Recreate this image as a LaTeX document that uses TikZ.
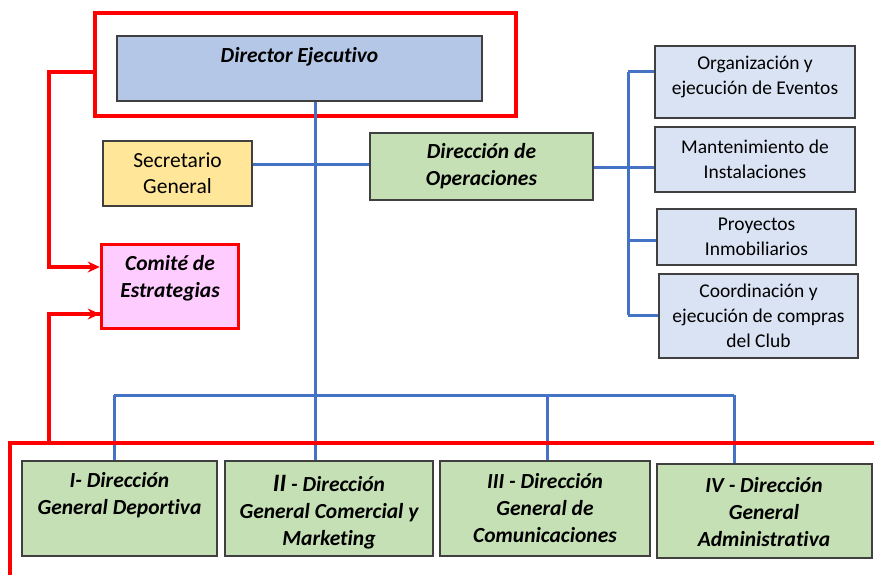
\documentclass[tikz,border=0pt]{standalone}
\usepackage{fontspec}
\setmainfont{Carlito}[Ligatures=NoCommon]
\usetikzlibrary{arrows.meta}
\definecolor{bluel}{HTML}{4472C4}
\definecolor{redl}{HTML}{FF0000}
\definecolor{dirfill}{HTML}{B4C7E7}
\definecolor{greenf}{HTML}{C5E0B4}
\definecolor{yellowf}{HTML}{FFE699}
\definecolor{pinkf}{HTML}{FFCCFF}
\definecolor{lbluef}{HTML}{DAE3F3}
\definecolor{borderc}{HTML}{404040}
\begin{document}
\begin{tikzpicture}[x=1pt,y=-1pt,
  box/.style={draw=borderc, line width=1.1pt, rectangle, inner sep=0pt},
  txt/.style={align=center, inner sep=0pt, font=\fontsize{21.5}{26}\selectfont},
  stxt/.style={align=center, inner sep=0pt, font=\fontsize{19.5}{25}\selectfont},
  btxt/.style={txt, font=\fontsize{21.5}{27}\selectfont\bfseries\itshape},
  bline/.style={draw=bluel, line width=3pt},
  rline/.style={draw=redl, line width=3.5pt},
  rarrow/.style={rline, -{Stealth[length=12pt,width=11pt,inset=4pt]}}
]
\useasboundingbox (0,0) rectangle (874,575);

% red frame around director
\node[draw=redl, line width=3.5pt, rectangle, minimum width=421pt, minimum height=103pt, inner sep=0pt] (frame) at (305.5,64.5) {};

% boxes
\node[box, fill=dirfill, minimum width=365pt, minimum height=65pt] (dir) at (299.5,68.5) {};
\node[btxt] (dirtxt) at (299.5,57) {Director Ejecutivo};

\node[box, fill=yellowf, minimum width=149pt, minimum height=65pt, txt] (sec) at (177.5,173.5) {Secretario\\General};

\node[draw=redl, line width=3.5pt, rectangle, fill=pinkf, minimum width=137pt, minimum height=84pt, inner sep=0pt] (com) at (170,286.5) {};
\node[btxt] (comtxt) at (170,278) {Comité de\\Estrategias};

\node[box, fill=greenf, minimum width=223pt, minimum height=67pt, btxt] (ope) at (481.5,166.5) {Dirección de\\Operaciones};

\node[box, fill=lbluef, minimum width=200pt, minimum height=72pt] (org) at (755,82) {};
\node[stxt] (orgtxt) at (755,76.5) {Organización y\\ejecución de Eventos};
\node[box, fill=lbluef, minimum width=200pt, minimum height=65pt, stxt] (man) at (755,159.5) {Mantenimiento de\\Instalaciones};
\node[box, fill=lbluef, minimum width=199pt, minimum height=56pt, stxt] (pro) at (756.5,237) {Proyectos\\Inmobiliarios};
\node[box, fill=lbluef, minimum width=199pt, minimum height=84pt, stxt] (coo) at (758.5,316) {Coordinación y\\ejecución de compras\\del Club};

\node[box, fill=greenf, minimum width=195pt, minimum height=95pt] (d1) at (119.5,508.5) {};
\node[btxt] (d1txt) at (119.5,495) {I- Dirección\\General Deportiva};
\node[box, fill=greenf, minimum width=208pt, minimum height=95pt] (d2) at (329,508.5) {};
\node[btxt] (d2txt) at (329,512) {{\fontsize{25}{27}\selectfont II} - Dirección\\General Comercial y\\Marketing};
\node[box, fill=greenf, minimum width=210pt, minimum height=95pt] (d3) at (545,508.5) {};
\node[btxt] (d3txt) at (545,508.5) {III - Dirección\\General de\\Comunicaciones};
\node[box, fill=greenf, minimum width=215pt, minimum height=94pt] (d4) at (764.5,511) {};
\node[btxt] (d4txt) at (764,512) {IV - Dirección\\General\\Administrativa};

% blue connectors
\coordinate (sl) at (0,164);
\path[bline] (dir.south -| 315,0) -- (d2.north -| 315,0);
\path[bline] (sec.east |- sl) -- (ope.west |- sl);
\path[bline] (114,395) -- (734,395);
\path[bline] (114,395) -- (d1.north -| 114,0);
\path[bline] (547,395) -- (d3.north -| 547,0);
\path[bline] (734,395) -- (d4.north -| 734,0);
\coordinate (tr) at (628,167);
\path[bline] (ope.east |- tr) -- (tr);
\path[bline] (628,72) -- (628,315);
\path[bline] (628,72) -- (org.west |- 628,72);
\path[bline] (628,167) -- (man.west |- 628,167);
\path[bline] (628,240) -- (pro.west |- 628,240);
\path[bline] (628,315) -- (coo.west |- 628,315);

% red connectors
\coordinate (r1) at (49,72);
\coordinate (r2) at (49,314);
\coordinate (r3) at (49,443);
\coordinate (r4) at (10,443);
\path[rline] (frame.west |- r1) -- (r1) -- (49,268);
\path[rarrow] (47.25,267) -- (com.west |- 0,267);
\path[rline] (r3) -- (r2) -- (100,314);
\path[rarrow] (49,314) -- (com.west |- 0,314);
\path[rline] (874,443) -- (r4) -- (10,575);
\end{tikzpicture}
\end{document}
